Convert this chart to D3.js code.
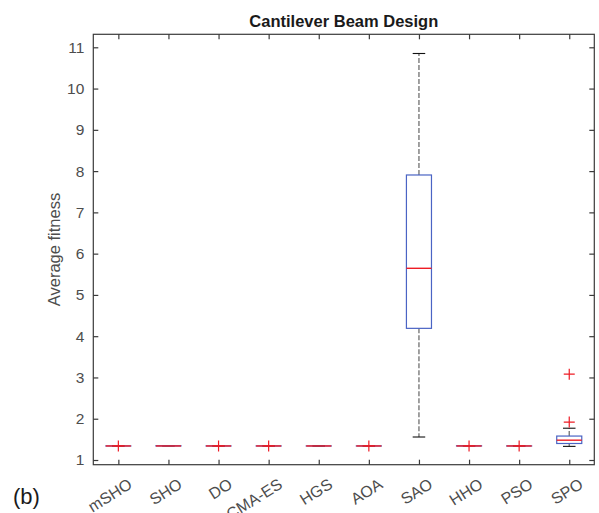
<!DOCTYPE html>
<html>
<head>
<meta charset="utf-8">
<script src="https://cdn.jsdelivr.net/npm/d3@7"></script>
<style>
  body { margin: 0; background: #fff; }
  svg { display: block; font-family: "Liberation Sans", Arial, sans-serif; }
</style>
</head>
<body>
<script>
// Data
const algorithms = ["mSHO", "SHO", "DO", "CMA-ES", "HGS", "AOA", "SAO", "HHO", "PSO", "SPO"];
const lowerWhisker = [1.3400, 1.3400, 1.3400, 1.3400, 1.3400, 1.3400, 1.557, 1.3400, 1.3400, 1.33];
const q1 =           [1.3400, 1.3400, 1.3400, 1.3400, 1.3400, 1.3400, 4.19, 1.3400, 1.3400, 1.40];
const medians =      [1.3401, 1.3402, 1.3401, 1.3401, 1.3401, 1.3401, 5.645, 1.3402, 1.3401, 1.48];
const q3 =           [1.3403, 1.3460, 1.3404, 1.3404, 1.3403, 1.3404, 7.906, 1.3440, 1.3404, 1.58];
const upperWhisker = [1.3405, 1.3470, 1.3406, 1.3406, 1.3405, 1.3406, 10.85, 1.3450, 1.3406, 1.77];
const outliers = [[1.341], [], [1.341], [1.341], [], [1.341], [], [1.342], [1.341], [3.08, 1.92]];
const yTicks = [1, 2, 3, 4, 5, 6, 7, 8, 9, 10, 11];

const width = 599, height = 513;
const margin = { left: 93.3, right: 4.7, top: 34.3, bottom: 48.3 };

const svg = d3.select("body").append("svg")
    .attr("width", width)
    .attr("height", height);

const x = d3.scaleLinear()
    .domain([0.5, algorithms.length + 0.5])
    .range([margin.left, width - margin.right]);

const y = d3.scaleLinear()
    .domain([0.886, 11.315])
    .range([height - margin.bottom, margin.top]);

const boxes = algorithms.map((name, i) => ({
    name: name, pos: i + 1,
    lw: lowerWhisker[i], q1: q1[i], med: medians[i], q3: q3[i], uw: upperWhisker[i],
    out: outliers[i]
}));

const halfBox = (x(1.25) - x(1));  // box width 0.5
const halfCap = halfBox / 2;

const g = svg.append("g").attr("class", "boxes");

// whiskers (dashed)
g.selectAll("line.wup").data(boxes).enter().append("line")
    .attr("x1", d => x(d.pos)).attr("x2", d => x(d.pos))
    .attr("y1", d => y(d.q3)).attr("y2", d => y(d.uw))
    .attr("stroke", "#7a7a7a").attr("stroke-width", 1.4)
    .attr("stroke-dasharray", "5,2");
g.selectAll("line.wlo").data(boxes).enter().append("line")
    .attr("x1", d => x(d.pos)).attr("x2", d => x(d.pos))
    .attr("y1", d => y(d.q1)).attr("y2", d => y(d.lw))
    .attr("stroke", "#7a7a7a").attr("stroke-width", 1.4)
    .attr("stroke-dasharray", "5,2");

// whisker caps
["uw", "lw"].forEach(k => {
    g.selectAll("line.cap-" + k).data(boxes).enter().append("line")
        .attr("x1", d => x(d.pos) - halfCap).attr("x2", d => x(d.pos) + halfCap)
        .attr("y1", d => y(d[k])).attr("y2", d => y(d[k]))
        .attr("stroke", "#111").attr("stroke-width", 1.1);
});

// boxes
g.selectAll("rect").data(boxes).enter().append("rect")
    .attr("x", d => x(d.pos) - halfBox)
    .attr("width", 2 * halfBox)
    .attr("y", d => y(d.q3))
    .attr("height", d => Math.max(y(d.q1) - y(d.q3), 0.01))
    .attr("fill", "none")
    .attr("stroke", "#4a64c4")
    .attr("stroke-width", 1.2);

// medians
g.selectAll("line.med").data(boxes).enter().append("line")
    .attr("x1", d => x(d.pos) - halfBox).attr("x2", d => x(d.pos) + halfBox)
    .attr("y1", d => y(d.med)).attr("y2", d => y(d.med))
    .attr("stroke", "#ee1c25").attr("stroke-width", 1.4);

// outliers as red plus signs
const outPts = [];
boxes.forEach(d => d.out.forEach(v => outPts.push({ pos: d.pos, v: v })));
g.selectAll("path.out").data(outPts).enter().append("path")
    .attr("d", d => {
        const cx = x(d.pos), cy = y(d.v), s = 5.5;
        return `M${cx - s},${cy}H${cx + s}M${cx},${cy - s}V${cy + s}`;
    })
    .attr("stroke", "#ee1c25").attr("stroke-width", 1.2).attr("fill", "none");

// axes frame
const axisColor = "#3a3a3a";
const x0 = margin.left, x1 = width - margin.right;
const y0 = margin.top, y1 = height - margin.bottom;
svg.append("rect")
    .attr("x", x0).attr("y", y0)
    .attr("width", x1 - x0).attr("height", y1 - y0)
    .attr("fill", "none").attr("stroke", axisColor).attr("stroke-width", 1.2);

// y axis left and right (inward ticks)
const yAxisL = svg.append("g")
    .attr("transform", `translate(${x0},0)`)
    .call(d3.axisLeft(y).tickValues(yTicks).tickSize(-5).tickPadding(9));
const yAxisR = svg.append("g")
    .attr("transform", `translate(${x1},0)`)
    .call(d3.axisRight(y).tickValues(yTicks).tickSize(-5).tickFormat(""));
// x axis bottom and top
const xAxisB = svg.append("g")
    .attr("transform", `translate(0,${y1})`)
    .call(d3.axisBottom(x).tickValues(d3.range(1, algorithms.length + 1)).tickSize(-5).tickFormat(""));
const xAxisT = svg.append("g")
    .attr("transform", `translate(0,${y0})`)
    .call(d3.axisTop(x).tickValues(d3.range(1, algorithms.length + 1)).tickSize(-5).tickFormat(""));

[yAxisL, yAxisR, xAxisB, xAxisT].forEach(a => {
    a.select(".domain").remove();
    a.selectAll(".tick line").attr("stroke", axisColor).attr("stroke-width", 1.2);
});
yAxisL.selectAll(".tick text")
    .attr("fill", "#4d4d4d")
    .style("font-size", "15.5px")
    .style("font-family", "Liberation Sans, Arial, sans-serif");

// rotated x labels
svg.append("g").selectAll("text").data(algorithms).enter().append("text")
    .attr("transform", (d, i) => `translate(${x(i + 1) + 9},${y1 + 13}) rotate(-32)`)
    .attr("text-anchor", "end")
    .attr("dominant-baseline", "hanging")
    .attr("fill", "#4d4d4d")
    .style("font-size", "16px")
    .text(d => d);

// title
svg.append("text")
    .attr("x", (x0 + x1) / 2).attr("y", 27)
    .attr("text-anchor", "middle")
    .attr("fill", "#1a1a1a")
    .style("font-size", "16.5px")
    .style("font-weight", "bold")
    .text("Cantilever Beam Design");

// y label
svg.append("text")
    .attr("transform", `translate(60,${(y0 + y1) / 2}) rotate(-90)`)
    .attr("text-anchor", "middle")
    .attr("fill", "#4d4d4d")
    .style("font-size", "16.5px")
    .text("Average fitness");

// panel tag
svg.append("text")
    .attr("x", 13).attr("y", 504)
    .attr("fill", "#1a1a1a")
    .style("font-size", "22px")
    .text("(b)");
</script>
</body>
</html>
